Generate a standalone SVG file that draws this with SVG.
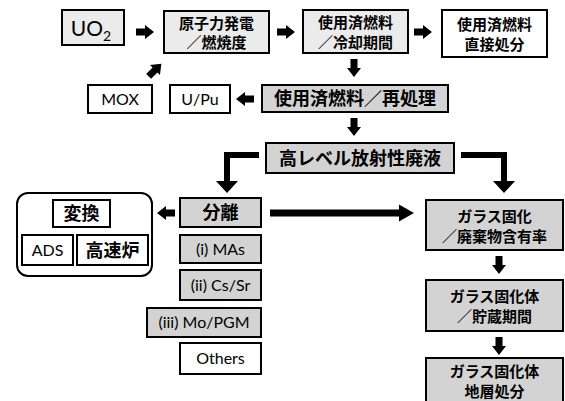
<svg xmlns="http://www.w3.org/2000/svg" xmlns:xlink="http://www.w3.org/1999/xlink" width="565" height="401" viewBox="0 0 565 401">
<style>
.box{stroke:#000;stroke-width:2}
.l{fill:#ebebeb}.d{fill:#d3d3d3}.w{fill:#fff}
.jp{font-family:"Noto Sans CJK JP",sans-serif;font-weight:bold;text-anchor:middle;fill:#000}
.en{font-family:Lato,"Liberation Sans",sans-serif;font-size:16px;text-anchor:middle;fill:#000}
.s16{font-size:15px}.s18{font-size:18px}
.ar{fill:#000}
</style>
<defs>
<polygon id="arr" points="-9,-3.5 0,-3.5 0,-7 9,0 0,7 0,3.5 -9,3.5"/>
</defs>
<rect width="565" height="401" fill="#fff"/>
<g id="connectors" class="ar">
<use xlink:href="#arr" transform="translate(145,32)"/>
<use xlink:href="#arr" transform="translate(286,32)"/>
<use xlink:href="#arr" transform="translate(423,32)"/>
<use xlink:href="#arr" transform="translate(354,68) rotate(90)"/>
<use xlink:href="#arr" transform="translate(354,127) rotate(90)"/>
<use xlink:href="#arr" transform="translate(245,99) rotate(180)"/>
<use xlink:href="#arr" transform="translate(155,70) rotate(-45)"/>
<use xlink:href="#arr" transform="translate(166,213) rotate(180)"/>
<use xlink:href="#arr" transform="translate(499,265) rotate(90)"/>
<use xlink:href="#arr" transform="translate(499,346) rotate(90)"/>
<polygon points="270,209.5 399,209.5 399,204.5 414,213 399,221.5 399,216.5 270,216.5"/>
<polygon points="259,152 224,152 224,181 216,181 227,193 238,181 230,181 230,158 259,158"/>
<polygon points="461,152 507,152 507,181 515,181 504,193 493,181 501,181 501,158 461,158"/>
</g>
<g id="uo2">
<rect class="box l" x="62" y="10" width="62" height="35"/>
<text x="91" y="36" font-family="Lato,sans-serif" font-size="21" text-anchor="middle">UO<tspan font-size="14" dy="5">2</tspan></text>
</g>
<g id="genshiryoku">
<rect class="box l" x="164" y="11" width="105" height="42"/>
<text class="jp s16" x="216.5" y="28.5">原子力発電<tspan x="216.5" dy="19.5">／燃焼度</tspan></text>
</g>
<g id="reikyaku">
<rect class="box l" x="303" y="10" width="105" height="43"/>
<text class="jp s16" x="355.5" y="28">使用済燃料<tspan x="355.5" dy="19.5">／冷却期間</tspan></text>
</g>
<g id="chokusetsu">
<rect class="box w" x="442" y="10" width="105" height="47"/>
<text class="jp s16" x="494.5" y="29.5">使用済燃料<tspan x="494.5" dy="20">直接処分</tspan></text>
</g>
<g id="saishori">
<rect class="box d" x="262" y="85" width="186" height="27"/>
<text class="jp s18" x="355" y="105">使用済燃料／再処理</text>
</g>
<g id="upu">
<rect class="box w" x="170" y="85" width="60" height="28"/>
<text class="en" x="200" y="104.5">U/Pu</text>
</g>
<g id="mox">
<rect class="box w" x="88" y="85" width="64" height="28"/>
<text class="en" x="120" y="104.5">MOX</text>
</g>
<g id="hlw">
<rect class="box d" x="266" y="143" width="188" height="30"/>
<text class="jp s18" x="360" y="165">高レベル放射性廃液</text>
</g>
<g id="henkan">
<rect x="17" y="193" width="135" height="83" rx="11" fill="#fff" stroke="#000" stroke-width="2"/>
<rect class="box w" x="53" y="200" width="57" height="27"/>
<text class="jp s18" x="81.5" y="220">変換</text>
<rect class="box w" x="22" y="235" width="51" height="30"/>
<text class="en" x="47.5" y="255.5">ADS</text>
<rect class="box w" x="77" y="235" width="71" height="30"/>
<text class="jp s18" x="112.5" y="257">高速炉</text>
</g>
<g id="bunri">
<rect class="box d" x="180" y="198" width="81" height="29"/>
<text class="jp s18" x="220.5" y="219">分離</text>
</g>
<g id="mas">
<rect class="box d" x="180" y="235" width="81" height="28"/>
<text class="en" x="220.5" y="254.5">(i) MAs</text>
</g>
<g id="cssr">
<rect class="box d" x="180" y="270" width="81" height="30"/>
<text class="en" x="220.5" y="290.5">(ii) Cs/Sr</text>
</g>
<g id="mopgm">
<rect class="box d" x="147" y="308" width="114" height="29"/>
<text class="en" x="204" y="328">(iii) Mo/PGM</text>
</g>
<g id="others">
<rect class="box w" x="180" y="343" width="81" height="31"/>
<text class="en" x="220.5" y="364">Others</text>
</g>
<g id="glass1">
<rect class="box d" x="426" y="200" width="137" height="50"/>
<text class="jp s16" x="494.5" y="222">ガラス固化<tspan x="494.5" dy="20">／廃棄物含有率</tspan></text>
</g>
<g id="glass2">
<rect class="box d" x="426" y="280" width="137" height="51"/>
<text class="jp s16" x="494.5" y="302">ガラス固化体<tspan x="494.5" dy="20">／貯蔵期間</tspan></text>
</g>
<g id="glass3">
<rect class="box d" x="426" y="358" width="137" height="50"/>
<text class="jp s16" x="494.5" y="377">ガラス固化体<tspan x="494.5" dy="20">地層処分</tspan></text>
</g>
</svg>
